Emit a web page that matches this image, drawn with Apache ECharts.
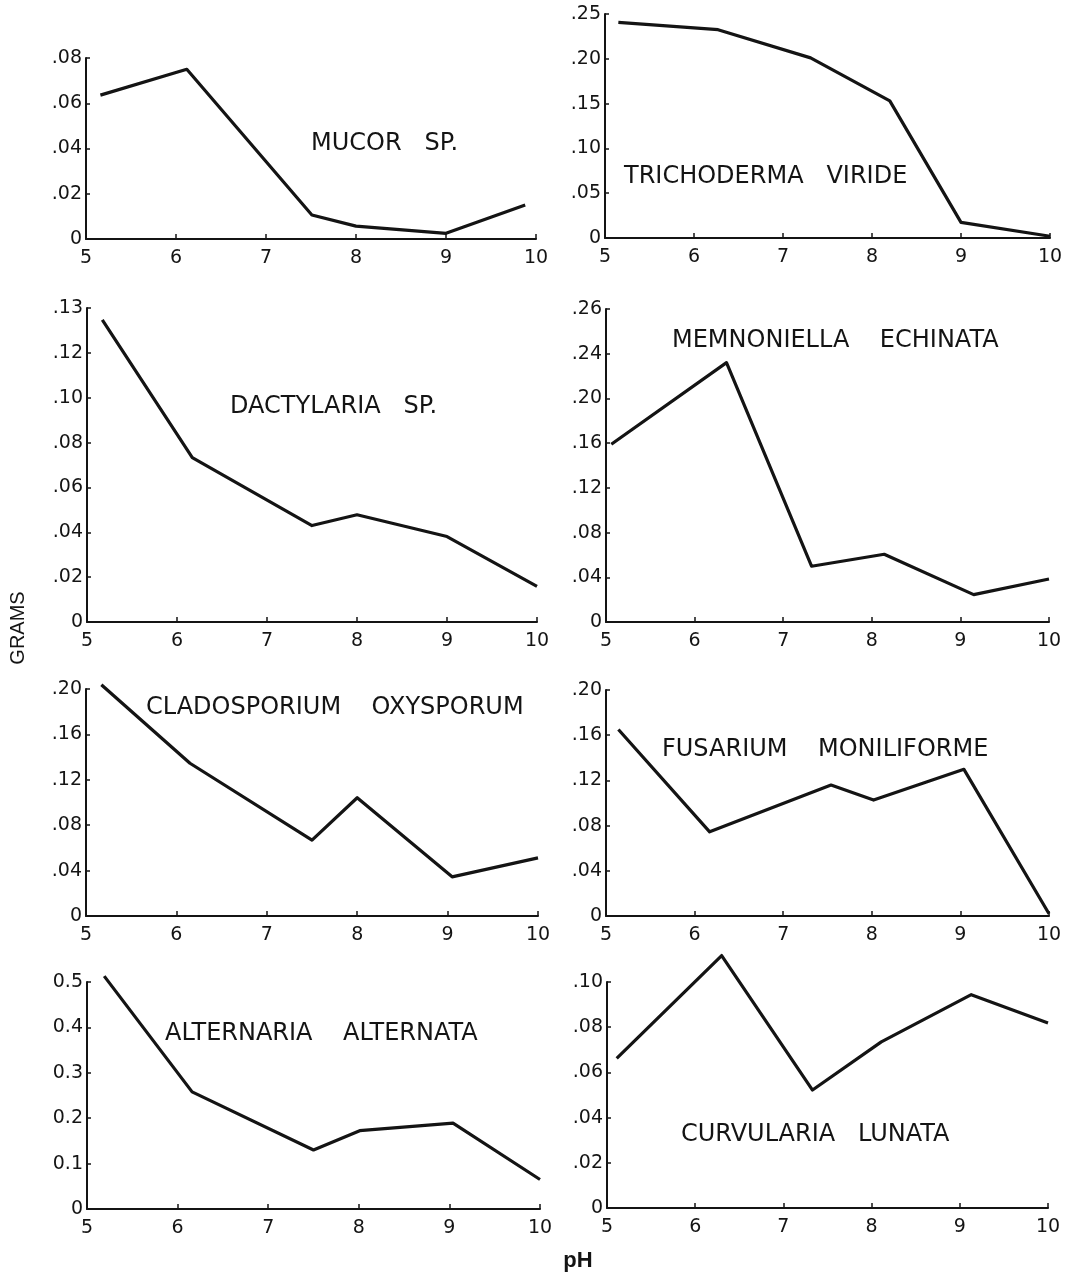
<!DOCTYPE html>
<html>
<head>
<meta charset="utf-8">
<script src="https://cdn.jsdelivr.net/npm/echarts@6/dist/echarts.min.js"></script>
<style>
html,body{margin:0;padding:0;background:#fff;}
#chart{width:1068px;height:1277px;}
</style>
</head>
<body>
<div id="chart"></div>
<script>
// ---------- DATA ----------
const xTickLabels = ['5','6','7','8','9','10'];

const speciesNames = [
  'MUCOR   SP.',
  'TRICHODERMA   VIRIDE',
  'DACTYLARIA   SP.',
  'MEMNONIELLA    ECHINATA',
  'CLADOSPORIUM    OXYSPORUM',
  'FUSARIUM    MONILIFORME',
  'ALTERNARIA    ALTERNATA',
  'CURVULARIA   LUNATA'
];

const phMucor  = [5.16, 6.12, 7.51, 8.0, 9.0, 9.88];
const gMucor   = [0.0636, 0.075, 0.0106, 0.0057, 0.0025, 0.015];

const phTricho = [5.15, 6.27, 7.31, 8.2, 9.0, 10.0];
const gTricho  = [0.2406, 0.2325, 0.201, 0.153, 0.0174, 0.002];

const phDacty  = [5.17, 6.17, 7.5, 8.0, 9.0, 10.0];
const gDacty   = [0.1347, 0.0733, 0.043, 0.0478, 0.0381, 0.0159];

const phMemno  = [5.06, 6.36, 7.32, 8.14, 9.15, 10.0];
const gMemno   = [0.159, 0.232, 0.0499, 0.0606, 0.0245, 0.0385];

const phClado  = [5.17, 6.15, 7.5, 8.0, 9.05, 10.0];
const gClado   = [0.2038, 0.1346, 0.0669, 0.1042, 0.0345, 0.0512];

const phFusar  = [5.14, 6.17, 7.54, 8.02, 9.04, 10.0];
const gFusar   = [0.165, 0.0745, 0.1159, 0.1026, 0.1298, 0.002];

const phAlter  = [5.19, 6.16, 7.5, 8.01, 9.04, 10.0];
const gAlter   = [0.513, 0.258, 0.130, 0.1725, 0.189, 0.065];

const phCurvu  = [5.11, 6.3, 7.33, 8.11, 9.13, 10.0];
const gCurvu   = [0.0662, 0.1117, 0.0522, 0.0735, 0.0944, 0.0819];

// y tick labels (as printed in the figure)
const yTicksMucor  = ['0','.02','.04','.06','.08'];
const yTicksTricho = ['0','.05','.10','.15','.20','.25'];
const yTicksDacty  = ['0','.02','.04','.06','.08','.10','.12','.13'];
const yTicksMemno  = ['0','.04','.08','.12','.16','.20','.24','.26'];
const yTicksClado  = ['0','.04','.08','.12','.16','.20'];
const yTicksFusar  = ['0','.04','.08','.12','.16','.20'];
const yTicksAlter  = ['0','0.1','0.2','0.3','0.4','0.5'];
const yTicksCurvu  = ['0','.02','.04','.06','.08','.10'];

// y scale steps
const yStepMucor = 0.02, yStepTricho = 0.05, yStepDacty = 0.02, yStepMemno = 0.04;
const yStepClado = 0.04, yStepFusar = 0.04, yStepAlter = 0.1, yStepCurvu = 0.02;

// ---------- LAYOUT ----------
const panels = [
  {ph: phMucor,  g: gMucor,  ticks: yTicksMucor,  step: yStepMucor,  grid:{left:86, top:58,  width:450, height:181}, label:{left:311, top:132}},
  {ph: phTricho, g: gTricho, ticks: yTicksTricho, step: yStepTricho, grid:{left:605,top:14,  width:445, height:224}, label:{left:624, top:165}},
  {ph: phDacty,  g: gDacty,  ticks: yTicksDacty,  step: yStepDacty,  grid:{left:87, top:308, width:450, height:314}, label:{left:230, top:395}},
  {ph: phMemno,  g: gMemno,  ticks: yTicksMemno,  step: yStepMemno,  grid:{left:606,top:309, width:443, height:313}, label:{left:672, top:329}},
  {ph: phClado,  g: gClado,  ticks: yTicksClado,  step: yStepClado,  grid:{left:86, top:689, width:452, height:227}, label:{left:146, top:696}},
  {ph: phFusar,  g: gFusar,  ticks: yTicksFusar,  step: yStepFusar,  grid:{left:606,top:690, width:443, height:226}, label:{left:662, top:738}},
  {ph: phAlter,  g: gAlter,  ticks: yTicksAlter,  step: yStepAlter,  grid:{left:87, top:982, width:453, height:227}, label:{left:165, top:1022}},
  {ph: phCurvu,  g: gCurvu,  ticks: yTicksCurvu,  step: yStepCurvu,  grid:{left:607,top:982, width:441, height:226}, label:{left:681, top:1123}}
];

const INK = '#141414';
const FONT = "'DejaVu Sans', sans-serif";

const grids = [], xAxes = [], yAxes = [], series = [], titles = [];
panels.forEach((p, i) => {
  grids.push(Object.assign({containLabel:false}, p.grid));
  xAxes.push({
    type:'value', gridIndex:i, min:5, max:10, interval:1,
    axisLine:{show:true, onZero:false, lineStyle:{color:INK, width:2}},
    axisTick:{show:true, inside:true, length:5, lineStyle:{color:INK, width:1.5}},
    axisLabel:{color:INK, fontSize:19, fontFamily:FONT, margin:10,
      formatter:(v)=> xTickLabels[Math.round(v-5)] ?? ''},
    splitLine:{show:false}
  });
  yAxes.push({
    type:'value', gridIndex:i, min:0, max:p.step*(p.ticks.length-1), interval:p.step,
    axisLine:{show:true, onZero:false, lineStyle:{color:INK, width:2}},
    axisTick:{show:true, inside:true, length:4, lineStyle:{color:INK, width:1.5}},
    axisLabel:{color:INK, fontSize:19, fontFamily:FONT, margin:4,
      formatter:(v)=> p.ticks[Math.round(v/p.step)] ?? ''},
    splitLine:{show:false}
  });
  series.push({
    type:'line', xAxisIndex:i, yAxisIndex:i,
    data: p.ph.map((x,k)=>[x, p.g[k]]),
    symbol:'none', clip:false, animation:false,
    lineStyle:{color:INK, width:3.2, join:'round'}
  });
  titles.push({
    text: speciesNames[i], left:p.label.left, top:p.label.top, padding:0,
    textStyle:{color:INK, fontSize:24, fontWeight:'normal', fontFamily:FONT}
  });
});

const chart = echarts.init(document.getElementById('chart'), null, {renderer:'canvas'});
chart.setOption({
  backgroundColor:'#ffffff',
  animation:false,
  title: titles,
  grid: grids,
  xAxis: xAxes,
  yAxis: yAxes,
  series: series,
  graphic: [
    {type:'text', x:18, y:628, rotation:Math.PI/2,
      style:{text:'GRAMS', fill:INK, font:"20px 'Liberation Sans', sans-serif",
        align:'center', verticalAlign:'middle', textAlign:'center', textVerticalAlign:'middle'}},
    {type:'text', x:578, y:1261,
      style:{text:'pH', fill:INK, font:"bold 22px 'Liberation Sans', sans-serif",
        align:'center', verticalAlign:'middle', textAlign:'center', textVerticalAlign:'middle'}}
  ]
});
</script>
</body>
</html>
